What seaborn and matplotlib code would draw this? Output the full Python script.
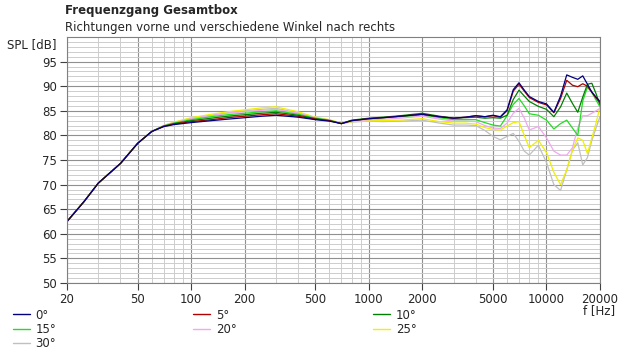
import numpy as np
import pandas as pd
import matplotlib
matplotlib.use("Agg")
import matplotlib.pyplot as plt
from matplotlib.ticker import FixedLocator, NullFormatter, MultipleLocator
from matplotlib.lines import Line2D
import seaborn as sns

# frequency points (Hz)
freq = [20, 25, 30, 40, 50, 60, 70, 80, 100, 130, 160, 200, 250, 300, 400, 500,
        600, 700, 800, 1000, 1200, 1500, 2000, 2500, 3000, 3500, 4000, 4500,
        5000, 5500, 6000, 6500, 7000, 7500, 8000, 9000, 10000, 11000, 12000,
        13000, 14000, 15000, 16000, 17000, 18000, 19000, 20000]

spl_0 = [62.5, 66.6, 70.3, 74.3, 78.4, 80.8, 81.8, 82.2, 82.6, 83.0, 83.3, 83.6, 83.9, 84.1, 83.7, 83.2,
         82.9, 82.4, 83.0, 83.4, 83.6, 83.9, 84.3, 83.8, 83.5, 83.7, 84.0, 83.8,
         84.1, 83.8, 85.2, 89.3, 90.7, 89.2, 87.9, 86.9, 86.4, 84.7, 88.0,
         92.3, 91.8, 91.4, 92.1, 90.4, 88.8, 87.8, 86.9]
spl_5 = [62.5, 66.6, 70.3, 74.3, 78.4, 80.8, 81.8, 82.3, 82.8, 83.2, 83.6, 83.9, 84.2, 84.4, 83.9, 83.3,
         83.0, 82.4, 83.0, 83.4, 83.6, 83.9, 84.3, 83.8, 83.5, 83.7, 84.0, 83.8,
         84.0, 83.7, 85.0, 89.0, 90.4, 89.0, 87.7, 86.7, 86.2, 84.6, 87.5,
         91.2, 90.2, 89.9, 90.5, 90.0, 88.8, 87.6, 86.6]
spl_10 = [62.5, 66.6, 70.3, 74.3, 78.4, 80.8, 81.9, 82.4, 83.0, 83.5, 83.9, 84.2, 84.5, 84.7, 84.1, 83.4,
          83.0, 82.4, 83.1, 83.5, 83.7, 84.0, 84.5, 83.9, 83.5, 83.6, 83.7, 83.5,
          83.6, 83.5, 84.1, 87.3, 89.2, 88.0, 86.9, 85.9, 85.3, 83.8, 85.8,
          88.6, 86.5, 84.7, 87.8, 90.4, 90.6, 88.5, 86.2]
spl_15 = [62.5, 66.6, 70.3, 74.3, 78.4, 80.8, 81.9, 82.5, 83.2, 83.8, 84.2, 84.5, 84.8, 85.0, 84.3, 83.5,
          83.1, 82.4, 83.0, 83.4, 83.6, 83.8, 84.2, 83.6, 83.2, 83.2, 83.2, 82.6,
          82.1, 81.9, 84.0, 86.3, 87.5, 86.0, 84.4, 84.1, 83.1, 81.3, 82.4,
          83.1, 81.5, 80.0, 87.0, 89.8, 88.7, 87.2, 85.8]
spl_20 = [62.5, 66.6, 70.3, 74.3, 78.4, 80.8, 82.0, 82.6, 83.4, 84.0, 84.5, 84.8, 85.1, 85.3, 84.5, 83.6,
          83.1, 82.4, 82.9, 83.2, 83.3, 83.5, 83.9, 83.3, 82.9, 82.9, 82.8, 82.0,
          81.5, 81.4, 82.5, 84.5, 85.5, 83.5, 81.1, 81.8, 79.5, 76.8, 76.0,
          76.0, 77.5, 81.5, 84.0, 84.0, 84.5, 85.0, 85.5]
spl_25 = [62.5, 66.6, 70.3, 74.3, 78.4, 80.8, 82.0, 82.7, 83.6, 84.3, 84.8, 85.2, 85.6, 85.8, 84.8, 83.7,
          83.2, 82.5, 82.8, 83.0, 83.0, 83.1, 83.4, 82.8, 82.5, 82.5, 82.3, 81.6,
          81.2, 81.1, 81.9, 82.6, 82.8, 80.0, 77.5, 79.0, 76.5, 72.5, 70.0,
          73.0, 77.0, 79.5, 79.0, 76.3, 79.5, 82.5, 85.8]
spl_30 = [62.5, 66.6, 70.3, 74.3, 78.4, 80.8, 82.0, 82.6, 83.5, 84.1, 84.6, 85.0, 85.3, 85.5, 84.6, 83.6,
          83.1, 82.4, 82.7, 82.9, 82.8, 82.9, 83.1, 82.5, 82.1, 82.1, 82.0, 81.0,
          79.8, 79.1, 79.8, 80.4, 78.8, 76.8, 76.0, 78.0, 74.5, 70.0, 68.8,
          73.0, 77.0, 78.5, 74.0, 75.5, 79.0, 81.5, 83.8]

angles = ["0°", "5°", "10°", "15°", "20°", "25°", "30°"]
series = [spl_0, spl_5, spl_10, spl_15, spl_20, spl_25, spl_30]
colors = ["#000080", "#b00000", "#008000", "#22dd22", "#f0a8f0", "#f0f000", "#c0c0c0"]

x_ticks = [20, 50, 100, 200, 500, 1000, 2000, 5000, 10000, 20000]

df = pd.concat([pd.DataFrame({"f": freq, "spl": s, "angle": a})
                for a, s in zip(angles, series)], ignore_index=True)

sns.set_style("white")
plt.rcParams["font.family"] = ["DejaVu Sans"]

fig = plt.figure(figsize=(6.24, 3.6), dpi=100)
ax = fig.add_axes([0.1074, 0.2139, 0.8541, 0.6833])

palette = dict(zip(angles, colors))
sns.lineplot(data=df, x="f", y="spl", hue="angle", hue_order=angles[::-1],
             palette=palette, linewidth=0.9, legend=False, ax=ax, sort=False)

ax.set_xscale("log")
ax.set_xlim(20, 20000)
ax.set_ylim(50, 100)

# grid: light minor, darker major
minor_x = [m * 10 ** e for e in range(1, 5) for m in range(1, 10) if 20 <= m * 10 ** e <= 20000]
ax.xaxis.set_major_locator(FixedLocator(x_ticks))
ax.xaxis.set_minor_locator(FixedLocator(minor_x))
ax.set_xticklabels([str(t) for t in x_ticks])
ax.xaxis.set_minor_formatter(NullFormatter())
ax.set_yticks(range(50, 100, 5))
ax.set_yticks(range(50, 101, 1), minor=True)

ax.grid(which="minor", color="#cdcdcd", linewidth=0.7)
ax.grid(which="major", color="#909090", linewidth=0.8)
ax.set_axisbelow(True)

ax.tick_params(axis="both", which="major", direction="out", length=5, width=0.8,
               color="#404040", labelsize=8.5, pad=2, left=True, bottom=True)
ax.tick_params(axis="both", which="minor", length=0)
for sp in ax.spines.values():
    sp.set_color("#808080")
    sp.set_linewidth(0.8)

ax.set_xlabel("")
ax.set_ylabel("")
fig.text(0.091, 0.877, "SPL [dB]", ha="right", va="center", fontsize=8.5)
fig.text(0.985, 0.137, "f [Hz]", ha="right", va="center", fontsize=8.5)

fig.text(0.104, 0.972, "Frequenzgang Gesamtbox", ha="left", va="center",
         fontsize=8.5, fontweight="bold")
fig.text(0.104, 0.925, "Richtungen vorne und verschiedene Winkel nach rechts",
         ha="left", va="center", fontsize=8.5)

order = ["0°", "15°", "30°", "5°", "20°", "10°", "25°"]
handles = [Line2D([], [], color=palette[a], linewidth=1.0) for a in order]
fig.legend(handles, order, loc="upper left", bbox_to_anchor=(0.021, 0.143),
           ncol=3, frameon=False, fontsize=8.5, handlelength=1.4,
           handletextpad=0.5, columnspacing=11.6, labelspacing=0.1,
           borderpad=0, borderaxespad=0)

fig.savefig("out.png", dpi=100)
